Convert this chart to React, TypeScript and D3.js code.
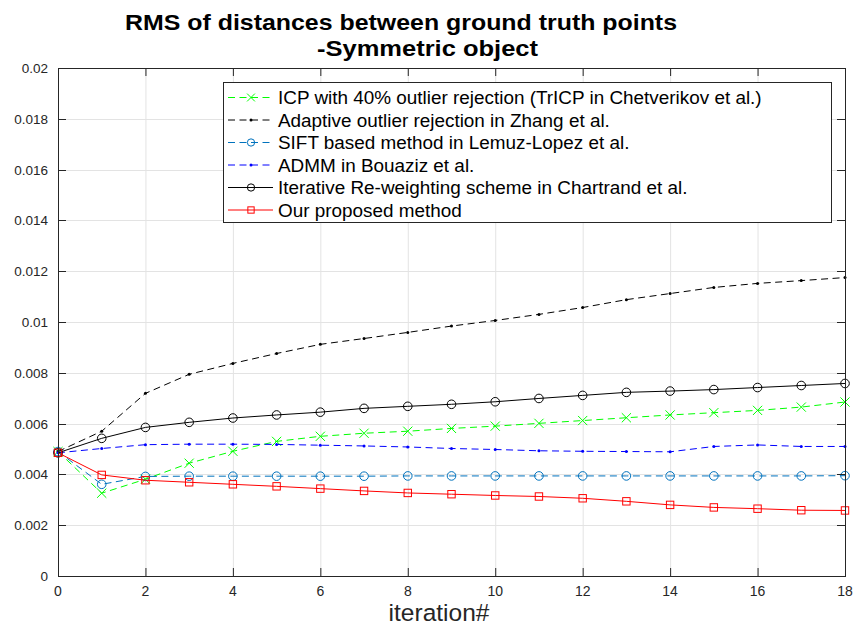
import React, { useEffect, useRef } from "react";
import * as d3 from "d3";

// Iteration index shared by every series
const iterations = [0, 1, 2, 3, 4, 5, 6, 7, 8, 9, 10, 11, 12, 13, 14, 15, 16, 17, 18];

// RMS values per method
const icpTrimmed = [0.0049, 0.00326, 0.00381, 0.00444, 0.00491, 0.0053, 0.0055, 0.00562, 0.0057, 0.00581, 0.0059, 0.00601, 0.00612, 0.00623, 0.00634, 0.00643, 0.00652, 0.00665, 0.00685];
const adaptiveRejection = [0.0049, 0.0057, 0.00719, 0.00794, 0.00837, 0.00876, 0.00912, 0.00935, 0.00959, 0.00984, 0.01006, 0.0103, 0.01057, 0.01088, 0.01112, 0.01136, 0.01152, 0.01163, 0.01175];
const siftBased = [0.0049, 0.00361, 0.00392, 0.00393, 0.00393, 0.00393, 0.00393, 0.00393, 0.00394, 0.00394, 0.00394, 0.00394, 0.00394, 0.00394, 0.00394, 0.00394, 0.00394, 0.00394, 0.00395];
const admm = [0.00485, 0.00502, 0.00517, 0.00519, 0.00519, 0.00518, 0.00515, 0.00512, 0.00508, 0.00502, 0.00498, 0.00493, 0.00491, 0.0049, 0.00489, 0.0051, 0.00516, 0.0051, 0.0051];
const reweighting = [0.00485, 0.00542, 0.00585, 0.00605, 0.00622, 0.00634, 0.00645, 0.0066, 0.00668, 0.00676, 0.00686, 0.00699, 0.00711, 0.00723, 0.00728, 0.00734, 0.00742, 0.0075, 0.00758];
const proposed = [0.00485, 0.00398, 0.00377, 0.00369, 0.00361, 0.00353, 0.00344, 0.00335, 0.00327, 0.00322, 0.00317, 0.00313, 0.00306, 0.00294, 0.0028, 0.0027, 0.00265, 0.00259, 0.00258];

const seriesNames = [
  "ICP with 40% outlier rejection (TrICP in Chetverikov et al.)",
  "Adaptive outlier rejection in Zhang et al.",
  "SIFT based method in Lemuz-Lopez et al.",
  "ADMM in Bouaziz et al.",
  "Iterative Re-weighting scheme in Chartrand et al.",
  "Our proposed method",
];

const xTicks = [0, 2, 4, 6, 8, 10, 12, 14, 16, 18];
const yTicks = [0, 0.002, 0.004, 0.006, 0.008, 0.01, 0.012, 0.014, 0.016, 0.018, 0.02];

type Marker = "x" | "dot" | "circle" | "square";
interface Series {
  name: string;
  values: number[];
  color: string;
  dashed: boolean;
  marker: Marker;
}

const series: Series[] = [
  { name: seriesNames[0], values: icpTrimmed, color: "#00ff00", dashed: true, marker: "x" },
  { name: seriesNames[1], values: adaptiveRejection, color: "#000000", dashed: true, marker: "dot" },
  { name: seriesNames[2], values: siftBased, color: "#0072bd", dashed: true, marker: "circle" },
  { name: seriesNames[3], values: admm, color: "#0000ff", dashed: true, marker: "dot" },
  { name: seriesNames[4], values: reweighting, color: "#000000", dashed: false, marker: "circle" },
  { name: seriesNames[5], values: proposed, color: "#ff0000", dashed: false, marker: "square" },
];

const W = 854;
const H = 628;
const M = { left: 58, right: 845, top: 68, bottom: 576 };
const FONT = "'Liberation Sans', Arial, Helvetica, sans-serif";
const AXIS = "#262626";

function drawMarker(g: d3.Selection<SVGGElement, unknown, null, undefined>, m: Marker, x: number, y: number, color: string, scale = 1) {
  if (m === "x") {
    const r = 4.6 * scale;
    g.append("path")
      .attr("d", `M${x - r},${y - r}L${x + r},${y + r}M${x - r},${y + r}L${x + r},${y - r}`)
      .attr("stroke", color).attr("stroke-width", 1).attr("fill", "none");
  } else if (m === "dot") {
    g.append("circle").attr("cx", x).attr("cy", y).attr("r", 1.5 * scale).attr("fill", color);
  } else if (m === "circle") {
    g.append("circle").attr("cx", x).attr("cy", y).attr("r", 4.3 * scale)
      .attr("stroke", color).attr("stroke-width", 1).attr("fill", "none");
  } else {
    const s = 3.7 * scale;
    g.append("rect").attr("x", x - s).attr("y", y - s).attr("width", 2 * s).attr("height", 2 * s)
      .attr("stroke", color).attr("stroke-width", 1).attr("fill", "none");
  }
}

export default function App() {
  const ref = useRef<SVGSVGElement | null>(null);

  useEffect(() => {
    const svg = d3.select(ref.current);
    svg.selectAll("*").remove();

    const x = d3.scaleLinear().domain([0, 18]).range([M.left, M.right]);
    const y = d3.scaleLinear().domain([0, 0.02]).range([M.bottom, M.top]);

    svg.append("rect").attr("width", W).attr("height", H).attr("fill", "#ffffff");

    // Grid
    const grid = svg.append("g").attr("stroke", "#e3e3e3").attr("stroke-width", 1);
    xTicks.forEach((t) => {
      if (t === 0 || t === 18) return;
      grid.append("line").attr("x1", x(t) + 0.5).attr("x2", x(t) + 0.5).attr("y1", M.top).attr("y2", M.bottom);
    });
    yTicks.forEach((t) => {
      if (t === 0 || t === 0.02) return;
      grid.append("line").attr("y1", Math.round(y(t)) + 0.5).attr("y2", Math.round(y(t)) + 0.5).attr("x1", M.left).attr("x2", M.right);
    });

    // Series lines and markers
    const line = d3.line<number>().x((_, i) => x(iterations[i])).y((d) => y(d));
    series.forEach((s) => {
      svg.append("path")
        .attr("d", line(s.values) as string)
        .attr("fill", "none")
        .attr("stroke", s.color)
        .attr("stroke-width", 1)
        .attr("stroke-dasharray", s.dashed ? "7,4.5" : null);
      const mg = svg.append("g");
      s.values.forEach((v, i) => drawMarker(mg, s.marker, x(iterations[i]), y(v), s.color));
    });

    // Box and ticks
    const box = svg.append("g").attr("stroke", AXIS).attr("stroke-width", 1).attr("fill", "none");
    box.append("rect").attr("x", M.left + 0.5).attr("y", M.top + 0.5)
      .attr("width", M.right - M.left).attr("height", M.bottom - M.top);
    xTicks.forEach((t) => {
      const px = x(t) + 0.5;
      box.append("line").attr("x1", px).attr("x2", px).attr("y1", M.bottom).attr("y2", M.bottom - 8);
      box.append("line").attr("x1", px).attr("x2", px).attr("y1", M.top).attr("y2", M.top + 8);
    });
    yTicks.forEach((t) => {
      const py = Math.round(y(t)) + 0.5;
      box.append("line").attr("x1", M.left).attr("x2", M.left + 8).attr("y1", py).attr("y2", py);
      box.append("line").attr("x1", M.right).attr("x2", M.right - 8).attr("y1", py).attr("y2", py);
    });

    // Tick labels
    const fmtY = (t: number) => (t === 0 ? "0" : String(+t.toFixed(3)));
    yTicks.forEach((t) => {
      svg.append("text").attr("x", M.left - 10).attr("y", y(t) + 5)
        .attr("text-anchor", "end").attr("font-family", FONT).attr("font-size", 13.5)
        .attr("fill", AXIS).text(fmtY(t));
    });
    xTicks.forEach((t) => {
      svg.append("text").attr("x", x(t)).attr("y", M.bottom + 20)
        .attr("text-anchor", "middle").attr("font-family", FONT).attr("font-size", 14)
        .attr("fill", AXIS).text(String(t));
    });

    svg.append("text").attr("x", 439).attr("y", 621)
      .attr("text-anchor", "middle").attr("font-family", FONT).attr("font-size", 24.5)
      .attr("fill", AXIS).text("iteration#");

    // Title
    svg.append("text").attr("x", 125).attr("y", 30)
      .attr("font-family", FONT).attr("font-size", 22.5)
      .attr("textLength", 552).attr("lengthAdjust", "spacingAndGlyphs")
      .attr("font-weight", "bold").attr("fill", "#000").text("RMS of distances between ground truth points");
    svg.append("text").attr("x", 317).attr("y", 56)
      .attr("font-family", FONT).attr("font-size", 22.5)
      .attr("textLength", 221).attr("lengthAdjust", "spacingAndGlyphs")
      .attr("font-weight", "bold").attr("fill", "#000").text("-Symmetric object");

    // Legend
    const lg = svg.append("g");
    lg.append("rect").attr("x", 223.5).attr("y", 82.5).attr("width", 608).attr("height", 140)
      .attr("fill", "#ffffff").attr("stroke", AXIS).attr("stroke-width", 1);
    series.forEach((s, i) => {
      const ly = 97.5 + i * 22.5;
      lg.append("line").attr("x1", 228).attr("x2", 273).attr("y1", ly).attr("y2", ly)
        .attr("stroke", s.color).attr("stroke-width", 1)
        .attr("stroke-dasharray", s.dashed ? "7,4.5" : null);
      const mg = lg.append("g");
      drawMarker(mg, s.marker, 251, ly, s.color, s.marker === "dot" ? 1 : 0.85);
      lg.append("text").attr("x", 278).attr("y", ly + 6.5)
        .attr("font-family", FONT).attr("font-size", 18.9).attr("fill", "#000").text(s.name);
    });
  }, []);

  return <svg ref={ref} width={W} height={H} style={{ display: "block", position: "absolute", left: 0, top: 0 }} />;
}
